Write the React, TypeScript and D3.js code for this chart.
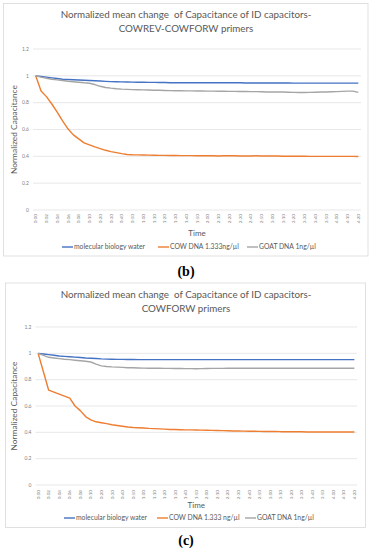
import React from "react";
import * as d3 from "d3";

// time categories (every minute up to 0:10, then every 5 minutes)
const times = [
  "0:00", "0:01", "0:02", "0:03", "0:04", "0:05", "0:06", "0:07", "0:08", "0:09", "0:10",
  "0:15", "0:20", "0:25", "0:30", "0:35", "0:40", "0:45", "0:50", "0:55", "1:00",
  "1:05", "1:10", "1:15", "1:20", "1:25", "1:30", "1:35", "1:40", "1:45", "1:50", "1:55", "2:00",
  "2:05", "2:10", "2:15", "2:20", "2:25", "2:30", "2:35", "2:40", "2:45", "2:50", "2:55", "3:00",
  "3:05", "3:10", "3:15", "3:20", "3:25", "3:30", "3:35", "3:40", "3:45", "3:50", "3:55", "4:00",
  "4:05", "4:10", "4:15", "4:20",
];

const yTicks = [0, 0.2, 0.4, 0.6, 0.8, 1, 1.2];

// panel (b) COWREV-COWFORW
const waterB = [
  1, 0.995, 0.99, 0.985, 0.98, 0.975, 0.973, 0.971, 0.969, 0.967, 0.965,
  0.963, 0.961, 0.959, 0.957, 0.956, 0.955, 0.954, 0.953, 0.952, 0.952,
  0.951, 0.951, 0.95, 0.95, 0.949, 0.949, 0.949, 0.949, 0.949, 0.949, 0.949, 0.948,
  0.948, 0.948, 0.948, 0.948, 0.948, 0.948, 0.947, 0.947, 0.947, 0.947, 0.947, 0.947,
  0.947, 0.947, 0.947, 0.946, 0.946, 0.946, 0.946, 0.946, 0.946, 0.946, 0.946, 0.946,
  0.946, 0.946, 0.946, 0.946,
];
const cowB = [
  1, 0.887, 0.845, 0.79, 0.73, 0.665, 0.605, 0.56, 0.53, 0.5, 0.485,
  0.47, 0.458, 0.445, 0.435, 0.428, 0.42, 0.414, 0.412, 0.411, 0.41,
  0.409, 0.408, 0.407, 0.407, 0.406, 0.406, 0.405, 0.405, 0.405, 0.404, 0.404, 0.404,
  0.404, 0.403, 0.404, 0.405, 0.404, 0.403, 0.402, 0.403, 0.404, 0.403, 0.402, 0.402,
  0.402, 0.401, 0.401, 0.401, 0.401, 0.401, 0.4, 0.4, 0.4, 0.4, 0.4, 0.4,
  0.4, 0.4, 0.4, 0.399,
];
const goatB = [
  1, 0.99, 0.982, 0.975, 0.97, 0.965, 0.96, 0.956, 0.952, 0.948, 0.945,
  0.935, 0.922, 0.913, 0.908, 0.904, 0.901, 0.899, 0.897, 0.896, 0.895,
  0.894, 0.893, 0.892, 0.891, 0.89, 0.889, 0.889, 0.888, 0.888, 0.887, 0.887, 0.886,
  0.886, 0.885, 0.885, 0.884, 0.884, 0.883, 0.883, 0.882, 0.882, 0.881, 0.88, 0.88,
  0.879, 0.879, 0.878, 0.877, 0.876, 0.876, 0.877, 0.878, 0.879, 0.88, 0.881, 0.882,
  0.884, 0.886, 0.886, 0.877,
];

// panel (c) COWFORW
const waterC = [
  1, 0.995, 0.99, 0.985, 0.98, 0.977, 0.974, 0.971, 0.968, 0.965, 0.963,
  0.961, 0.958, 0.956, 0.955, 0.954, 0.954, 0.953, 0.953, 0.952, 0.952,
  0.952, 0.952, 0.952, 0.952, 0.952, 0.952, 0.952, 0.952, 0.952, 0.952, 0.952, 0.952,
  0.952, 0.952, 0.952, 0.952, 0.952, 0.952, 0.952, 0.952, 0.952, 0.952, 0.952, 0.952,
  0.952, 0.952, 0.952, 0.952, 0.952, 0.952, 0.952, 0.952, 0.952, 0.952, 0.952, 0.952,
  0.952, 0.952, 0.952, 0.952,
];
const cowC = [
  1, 0.86, 0.72, 0.705, 0.69, 0.675, 0.66, 0.6, 0.565, 0.52, 0.495,
  0.48, 0.473, 0.466, 0.458, 0.452, 0.446, 0.44, 0.437, 0.435, 0.433,
  0.43, 0.428, 0.426, 0.424, 0.422, 0.421, 0.42, 0.419, 0.419, 0.418, 0.417, 0.416,
  0.415, 0.414, 0.413, 0.412, 0.41, 0.41, 0.409, 0.408, 0.408, 0.407, 0.406, 0.407,
  0.406, 0.405, 0.405, 0.404, 0.404, 0.404, 0.403, 0.403, 0.403, 0.403, 0.403, 0.403,
  0.403, 0.402, 0.403, 0.403,
];
const goatC = [
  1, 0.985, 0.97, 0.965, 0.96, 0.955, 0.952, 0.948, 0.944, 0.94, 0.934,
  0.918, 0.905, 0.9, 0.897, 0.895, 0.893, 0.891, 0.89, 0.889, 0.888,
  0.887, 0.887, 0.887, 0.886, 0.886, 0.885, 0.885, 0.884, 0.884, 0.883, 0.884, 0.885,
  0.886, 0.886, 0.886, 0.887, 0.887, 0.887, 0.887, 0.887, 0.887, 0.887, 0.887, 0.887,
  0.887, 0.887, 0.887, 0.887, 0.887, 0.887, 0.887, 0.887, 0.887, 0.887, 0.887, 0.887,
  0.887, 0.887, 0.887, 0.887,
];

const colors = ["#4472c4", "#ed7d31", "#a5a5a5"];
const font = "Lato, 'Open Sans', sans-serif";

type PanelProps = {
  box: [number, number, number, number];
  titleLines: string[];
  titleY: number;
  x0: number;
  x1: number;
  yTop: number;
  yBottom: number;
  labelY: number;
  timeY: number;
  legendY: number;
  legendX: number[];
  legendNames: string[];
  series: number[][];
};

function Panel(p: PanelProps) {
  const x = d3.scalePoint<string>().domain(times).range([p.x0, p.x1]).padding(0.5);
  const y = d3.scaleLinear().domain([0, 1.2]).range([p.yBottom, p.yTop]);
  const line = d3
    .line<number>()
    .x((_, i) => x(times[i]) as number)
    .y((d) => y(d));
  const midX = (p.x0 + p.x1) / 2;
  const midY = (p.yTop + p.yBottom) / 2;
  return (
    <g>
      <rect x={p.box[0]} y={p.box[1]} width={p.box[2]} height={p.box[3]} fill="#fff" stroke="#d9d9d9" strokeWidth={0.8} />
      {p.titleLines.map((t, i) => (
        <text
          key={i}
          x={186}
          y={p.titleY + i * 14}
          textAnchor="middle"
          fontFamily={font}
          fontSize={9.8}
          fill="#595959"
          style={{ whiteSpace: "pre" }}
        >
          {t}
        </text>
      ))}
      {yTicks.map((t) => (
        <g key={t}>
          <line x1={p.x0} x2={p.x1} y1={y(t)} y2={y(t)} stroke="#d9d9d9" strokeWidth={0.6} />
          <text x={p.x0 - 4} y={y(t) + 1.7} textAnchor="end" fontFamily={font} fontSize={5} fill="#7f7f7f">
            {d3.format("~g")(t)}
          </text>
        </g>
      ))}
      {times.map((t, i) =>
        i % 2 === 0 ? (
          <text
            key={t}
            transform={`translate(${(x(t) as number) + 1.6},${p.labelY}) rotate(-90)`}
            textAnchor="end"
            fontFamily={font}
            fontSize={4.6}
            fill="#7f7f7f"
          >
            {t}
          </text>
        ) : null
      )}
      <text
        transform={`translate(17,${midY}) rotate(-90)`}
        textAnchor="middle"
        fontFamily={font}
        fontSize={8.4}
        fill="#595959"
      >
        Normalized Capacitance
      </text>
      <text x={midX} y={p.timeY} textAnchor="middle" fontFamily={font} fontSize={8} fill="#595959">
        Time
      </text>
      {p.series.map((s, k) => (
        <path key={k} d={line(s) || ""} fill="none" stroke={colors[k]} strokeWidth={1.4} strokeLinejoin="round" />
      ))}
      {p.legendNames.map((n, k) => (
        <g key={n}>
          <line x1={p.legendX[k]} x2={p.legendX[k] + 11} y1={p.legendY} y2={p.legendY} stroke={colors[k]} strokeWidth={1.4} />
          <text x={p.legendX[k] + 12} y={p.legendY + 2.3} fontFamily={font} fontSize={6.8} fill="#595959">
            {n}
          </text>
        </g>
      ))}
    </g>
  );
}

export default function App() {
  return (
    <svg width={371} height={550} style={{ position: "absolute", left: 0, top: 0, background: "#fff" }}>
      <rect width={371} height={550} fill="#fff" />
      <Panel
        box={[3.5, 3.5, 364.5, 252.5]}
        titleLines={["Normalized mean change  of Capacitance of ID capacitors-", "COWREV-COWFORW primers"]}
        titleY={18}
        x0={33}
        x1={361}
        yTop={49}
        yBottom={210}
        labelY={214}
        timeY={236}
        legendY={247}
        legendX={[62, 158, 247]}
        legendNames={["molecular biology water", "COW DNA 1.333ng/\u00b5l", "GOAT DNA 1ng/\u00b5l"]}
        series={[waterB, cowB, goatB]}
      />
      <text x={186} y={276} textAnchor="middle" fontFamily="'Liberation Serif', serif" fontWeight="bold" fontSize={14} fill="#000">
        (b)
      </text>
      <Panel
        box={[5.5, 283, 360, 244.5]}
        titleLines={["Normalized mean change  of Capacitance of ID capacitors-", "COWFORW primers"]}
        titleY={298}
        x0={35.5}
        x1={357}
        yTop={327}
        yBottom={485}
        labelY={490}
        timeY={508}
        legendY={518}
        legendX={[64, 157, 245]}
        legendNames={["molecular biology water", "COW DNA 1.333 ng/\u00b5l", "GOAT DNA 1ng/\u00b5l"]}
        series={[waterC, cowC, goatC]}
      />
      <text x={186} y={545} textAnchor="middle" fontFamily="'Liberation Serif', serif" fontWeight="bold" fontSize={14} fill="#000">
        (c)
      </text>
    </svg>
  );
}
